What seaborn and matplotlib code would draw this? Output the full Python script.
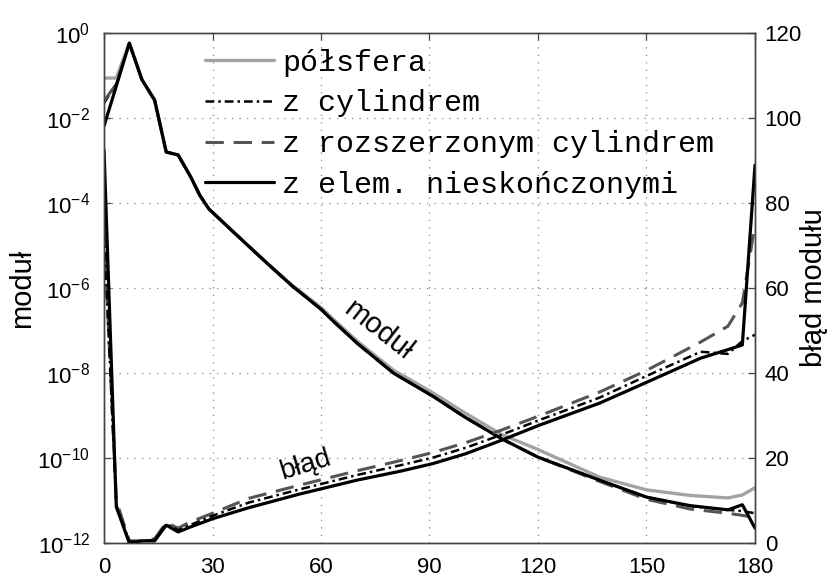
import matplotlib
matplotlib.use('Agg')
import matplotlib.pyplot as plt
import numpy as np
import seaborn as sns
from matplotlib.lines import Line2D


# kąt [deg] -> log10(moduł)
mod_x = [0, 3.4, 7, 10.5, 14, 17.2, 20.5, 24, 26.5, 29, 36, 45, 52, 60, 63, 70,
         80, 91, 100, 110, 120, 137, 150, 162, 172.5, 176.5, 180]
mod_elem = [-2.19, -1.25, -0.24, -1.1, -1.58, -2.8, -2.87, -3.39, -3.82, -4.14,
            -4.7, -5.41, -5.95, -6.5, -6.75, -7.3, -8.0, -8.55, -9.05, -9.55,
            -9.98, -10.52, -10.92, -11.12, -11.22, -11.1, -11.65]
mod_pols = [-1.06, -1.06, -0.24, -1.1, -1.58, -2.8, -2.87, -3.39, -3.82, -4.14,
            -4.7, -5.41, -5.93, -6.46, -6.7, -7.25, -7.93, -8.47, -8.95, -9.45,
            -9.8, -10.45, -10.75, -10.88, -10.94, -10.87, -10.7]
mod_cyl = [-1.65, -1.2, -0.24, -1.1, -1.58, -2.8, -2.87, -3.39, -3.82, -4.14,
           -4.7, -5.41, -5.95, -6.5, -6.75, -7.3, -8.0, -8.55, -9.05, -9.55,
           -9.98, -10.52, -10.92, -11.13, -11.22, -11.25, -11.3]
mod_roz = [-1.6, -1.2, -0.24, -1.1, -1.58, -2.8, -2.87, -3.39, -3.82, -4.14,
           -4.7, -5.41, -5.95, -6.5, -6.75, -7.3, -8.0, -8.55, -9.05, -9.55,
           -9.98, -10.55, -10.97, -11.2, -11.3, -11.35, -11.4]

# kąt [deg] -> błąd modułu [%]
err_x = [0, 3.4, 7, 10.5, 14, 17.2, 20.5, 24, 30, 40, 54, 70, 82, 91, 100,
         110, 120, 137, 150, 165, 172.5, 176.5, 180]
err_elem = [92.5, 8.5, 0, 0.5, 0.5, 4.2, 2.6, 3.8, 5.7, 8.3, 11.5, 14.8, 16.9,
            18.7, 21.0, 24.2, 27.6, 32.9, 37.8, 43.5, 45.5, 46.6, 88.9]
err_cyl = [73, 9, 0.3, 0.5, 0.7, 4.5, 3.0, 4.3, 6.4, 9.5, 12.6, 16.0, 18.3,
           20.1, 22.4, 25.5, 28.8, 34.2, 39.3, 45.0, 44.5, 47.5, 49]
err_roz = [74, 10, 0.5, 0.5, 1.0, 4.8, 3.5, 5.0, 7.0, 10.5, 13.6, 17.0, 19.4,
           21.3, 23.6, 26.6, 29.8, 35.5, 40.6, 47.3, 51, 56.5, 75]

labels = ['półsfera', 'z cylindrem', 'z rozszerzonym cylindrem',
          'z elem. nieskończonymi']

sns.set_style('white')
plt.rcParams['font.family'] = ['Liberation Sans', 'DejaVu Sans']
plt.rcParams['mathtext.fontset'] = 'custom'
plt.rcParams['mathtext.rm'] = 'Liberation Sans'
plt.rcParams['mathtext.it'] = 'Liberation Sans'
for k in ['text.color', 'axes.labelcolor', 'xtick.labelcolor', 'ytick.labelcolor']:
    plt.rcParams[k] = 'black'

fig = plt.figure(figsize=(8.35, 5.78), dpi=100)
ax = fig.add_axes([104 / 835, 35 / 578, 651 / 835, 510 / 578])
ax2 = ax.twinx()

c_grey = '#a3a3a3'
c_dash = '#555555'
styles = [
    dict(color=c_grey, lw=2.4, linestyle='-'),
    dict(color='black', lw=1.8, dashes=(3.5, 1.6, 1.0, 1.6)),
    dict(color=c_dash, lw=2.2, dashes=(6, 3.2)),
    dict(color='black', lw=2.3, linestyle='-'),
]

ax.set_yscale('log')
for vals, st in zip([mod_pols, mod_cyl, mod_roz, mod_elem], styles):
    sns.lineplot(x=mod_x, y=10.0 ** np.array(vals), ax=ax, estimator=None,
                 sort=False, **st)
for vals, st in zip([err_roz, err_cyl, err_elem], [styles[2], styles[1], styles[3]]):
    sns.lineplot(x=err_x, y=vals, ax=ax2, estimator=None, sort=False, **st)

ax.set_xlim(0, 180)
ax.set_ylim(1e-12, 1)
ax2.set_ylim(0, 120)

ax.set_xticks(range(0, 181, 30))
yt = [10.0 ** e for e in range(0, -13, -2)]
ax.set_yticks(yt)
ax.set_yticklabels([r'$10^{%d}$' % e for e in range(0, -13, -2)])
ax.yaxis.set_minor_locator(matplotlib.ticker.NullLocator())
ax2.set_yticks(range(0, 121, 20))

ax.grid(True, which='major', linestyle=(0, (1, 5)), color='#888888', lw=0.9)
ax2.grid(False)
for a in (ax, ax2):
    for sp in a.spines.values():
        sp.set_color('#444444')
        sp.set_linewidth(1.0)
ax.tick_params(axis='y', direction='in', length=5, width=0.9,
               color='#444444', labelcolor='black', labelsize=16, pad=10)
ax.tick_params(axis='x', direction='in', length=5, width=0.9,
               color='#444444', labelcolor='black', labelsize=16, top=True, pad=10)
ax2.tick_params(axis='y', direction='in', length=5, width=0.9,
                color='#444444', labelcolor='black', labelsize=16, pad=7)

ax.set_ylabel('moduł', fontsize=21, va='center', color='black')
ax.yaxis.set_label_coords(-0.126, 0.5)
ax2.set_ylabel('błąd modułu', fontsize=21, va='center', rotation=90, color='black')
ax2.yaxis.set_label_coords(1.09, 0.5)

ax.text(75.8, 1e-7, 'moduł', fontsize=21, rotation=-38,
        ha='center', va='center', color='black')
ax.text(55.6, 10 ** -10.16, 'błąd', fontsize=20, rotation=17,
        ha='center', va='center', color='black')

handles = [Line2D([], [], **st) for st in styles]
leg = ax2.legend(handles, labels, loc='upper left',
                 bbox_to_anchor=(0.155, 0.969), frameon=False,
                 prop={'family': 'Liberation Mono', 'size': 21.6},
                 handlelength=2.3, handletextpad=0.28, labelspacing=0.42,
                 borderpad=0, borderaxespad=0, labelcolor='black')

fig.savefig('out.png', dpi=100)
